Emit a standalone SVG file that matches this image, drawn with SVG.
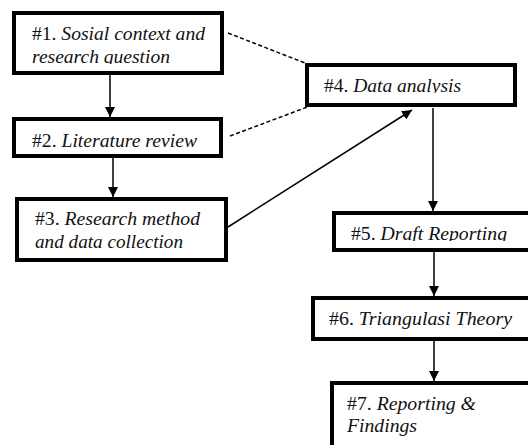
<svg xmlns="http://www.w3.org/2000/svg" width="528" height="445" viewBox="0 0 528 445">
<style>
.box{fill:#fff;stroke:#000;stroke-width:4}
text{font-family:'Liberation Serif','Times New Roman',Times,serif;font-size:19px;fill:#111}
.i{font-style:italic}
.c{stroke:#000;stroke-width:1.5;fill:none}
.d{stroke:#000;stroke-width:1.5;fill:none;stroke-dasharray:4 2.5}
</style>
<defs>
<marker id="ah" viewBox="0 0 10 10" refX="10" refY="5" markerWidth="10" markerHeight="10" markerUnits="userSpaceOnUse" orient="auto">
<path d="M0,0 L10,5 L0,10 z" fill="#000"/>
</marker>
<clipPath id="c1"><rect x="0" y="0" width="528" height="64"/></clipPath>
<clipPath id="c4"><rect x="0" y="0" width="528" height="93"/></clipPath>
<clipPath id="c5"><rect x="0" y="0" width="528" height="241"/></clipPath>
</defs>
<rect width="528" height="445" fill="#fff"/>
<g id="connectors">
<line class="d" x1="228" y1="33" x2="305" y2="63"/>
<line class="d" x1="230" y1="136" x2="310" y2="106"/>
<line class="c" x1="110" y1="75" x2="110" y2="117" marker-end="url(#ah)"/>
<line class="c" x1="113" y1="158" x2="113" y2="197" marker-end="url(#ah)"/>
<line class="c" x1="228" y1="227" x2="412" y2="110" marker-end="url(#ah)"/>
<line class="c" x1="433" y1="108" x2="433" y2="211" marker-end="url(#ah)"/>
<line class="c" x1="434" y1="252" x2="434" y2="296" marker-end="url(#ah)"/>
<line class="c" x1="434" y1="341" x2="434" y2="381" marker-end="url(#ah)"/>
</g>
<g id="n1">
<rect class="box" x="14" y="13" width="208" height="60"/>
<text x="32" y="40" textLength="173" lengthAdjust="spacingAndGlyphs" font-family="Liberation Serif">#1. <tspan class="i">Sosial context and</tspan></text>
<text class="i" x="32" y="63" textLength="138" lengthAdjust="spacingAndGlyphs" clip-path="url(#c1)" font-family="Liberation Serif">research question</text>
</g>
<g id="n2">
<rect class="box" x="14" y="119" width="207" height="37"/>
<text x="32" y="147" textLength="165" lengthAdjust="spacingAndGlyphs" font-family="Liberation Serif">#2. <tspan class="i">Literature review</tspan></text>
</g>
<g id="n3">
<rect class="box" x="17" y="199" width="209" height="61"/>
<text x="35" y="225" textLength="165" lengthAdjust="spacingAndGlyphs" font-family="Liberation Serif">#3. <tspan class="i">Research method</tspan></text>
<text class="i" x="35" y="248" textLength="148" lengthAdjust="spacingAndGlyphs" font-family="Liberation Serif">and data collection</text>
</g>
<g id="n4">
<rect class="box" x="307" y="65" width="208" height="40"/>
<text x="324" y="92" textLength="137" lengthAdjust="spacingAndGlyphs" clip-path="url(#c4)" font-family="Liberation Serif">#4. <tspan class="i">Data analysis</tspan></text>
</g>
<g id="n5">
<rect class="box" x="334" y="213" width="220" height="37"/>
<text x="351" y="240" textLength="156" lengthAdjust="spacingAndGlyphs" clip-path="url(#c5)" font-family="Liberation Serif">#5. <tspan class="i">Draft Reporting</tspan></text>
</g>
<g id="n6">
<rect class="box" x="313" y="298" width="230" height="41"/>
<text x="329" y="325" textLength="183" lengthAdjust="spacingAndGlyphs" font-family="Liberation Serif">#6. <tspan class="i">Triangulasi Theory</tspan></text>
</g>
<g id="n7">
<rect class="box" x="332" y="383" width="220" height="80"/>
<text x="347" y="410" textLength="129" lengthAdjust="spacingAndGlyphs" font-family="Liberation Serif">#7. <tspan class="i">Reporting &amp;</tspan></text>
<text class="i" x="347" y="432" textLength="70" lengthAdjust="spacingAndGlyphs" font-family="Liberation Serif">Findings</text>
</g>
</svg>
